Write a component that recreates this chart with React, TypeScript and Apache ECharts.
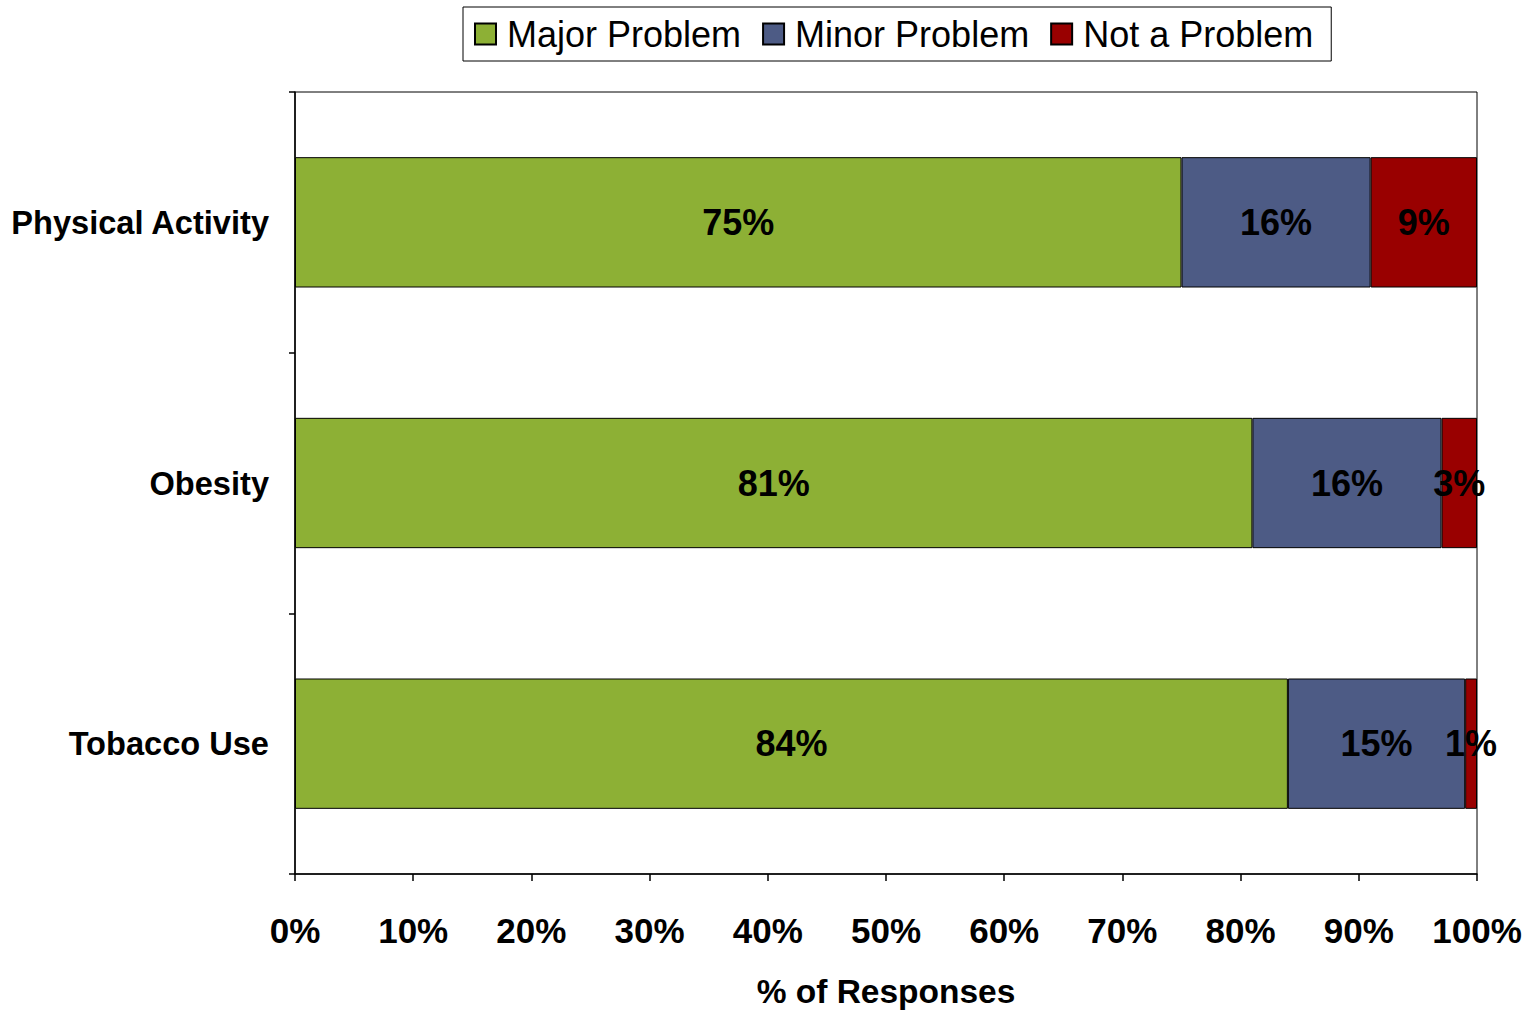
import React, { useEffect, useRef } from "react";
import * as echarts from "echarts";

const categories = ["Physical Activity", "Obesity", "Tobacco Use"];
const seriesNames = ["Major Problem", "Minor Problem", "Not a Problem"];
const majorProblem = [75, 81, 84];
const minorProblem = [16, 16, 15];
const notAProblem = [9, 3, 1];
const colors = ["#8DB035", "#4D5B85", "#990000"];
const xAxisName = "% of Responses";

export default function App() {
  const ref = useRef<HTMLDivElement>(null);
  useEffect(() => {
    if (!ref.current) return;
    const chart = echarts.init(ref.current, null, { renderer: "svg" });
    const font = "'Liberation Sans', Arial, sans-serif";
    const values = [majorProblem, minorProblem, notAProblem];
    chart.setOption({
      animation: false,
      textStyle: { fontFamily: font },
      legend: {
        top: 7,
        left: 463,
        data: seriesNames,
        orient: "horizontal",
        borderColor: "#000",
        borderWidth: 1,
        padding: [9, 18, 9, 11],
        itemGap: 21,
        itemWidth: 21,
        itemHeight: 21,
        icon: "rect",
        textStyle: { fontFamily: font, fontSize: 36, color: "#000", padding: [0, 0, 0, 6] },
      },
      grid: {
        left: 295,
        right: 60,
        top: 92,
        bottom: 138,
        show: true,
        borderColor: "#000",
        borderWidth: 1,
        containLabel: false,
      },
      xAxis: {
        type: "value",
        min: 0,
        max: 100,
        interval: 10,
        name: xAxisName,
        nameLocation: "middle",
        nameGap: 100,
        nameTextStyle: { fontFamily: font, fontSize: 33.5, fontWeight: "bold", color: "#000" },
        axisLine: { show: true, lineStyle: { color: "#000", width: 1.5 } },
        axisTick: { show: true, length: 7, lineStyle: { color: "#000", width: 1.5 } },
        axisLabel: {
          formatter: "{value}%",
          margin: 39,
          fontFamily: font,
          fontSize: 35,
          fontWeight: "bold",
          color: "#000",
        },
        splitLine: { show: false },
      },
      yAxis: {
        type: "category",
        data: categories,
        inverse: true,
        axisLine: { show: true, lineStyle: { color: "#000", width: 1.5 } },
        axisTick: { show: true, length: 6, lineStyle: { color: "#000", width: 1.5 } },
        axisLabel: {
          margin: 26,
          fontFamily: font,
          fontSize: 32.6,
          fontWeight: "bold",
          color: "#000",
        },
      },
      series: seriesNames.map((name, i) => ({
        name,
        type: "bar",
        stack: "total",
        barCategoryGap: "50%",
        data: values[i],
        itemStyle: { color: colors[i], borderColor: "#000", borderWidth: 1 },
        label: {
          show: true,
          position: "inside",
          formatter: "{c}%",
          fontFamily: font,
          fontSize: 36,
          fontWeight: "bold",
          color: "#000",
          textBorderWidth: 0,
        },
        labelLayout: { hideOverlap: false },
      })),
    });
    return () => chart.dispose();
  }, []);
  return (
    <div
      ref={ref}
      style={{ position: "fixed", left: 0, top: 0, width: 1537, height: 1013, background: "#fff" }}
    />
  );
}
